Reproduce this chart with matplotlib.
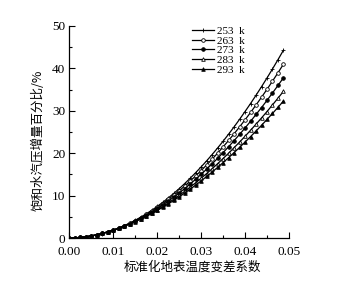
import matplotlib
matplotlib.use("Agg")
import matplotlib.pyplot as plt
from matplotlib.ticker import MultipleLocator, FormatStrFormatter

# normalised surface temperature variation coefficient
x = [i * 0.00125 for i in range(40)]

# saturation vapour pressure increase (%)
t253 = [0, 0.03, 0.12, 0.26, 0.47, 0.73, 1.05, 1.43, 1.86, 2.36, 2.91, 3.52, 4.19, 4.92,
        5.71, 6.55, 7.46, 8.42, 9.44, 10.51, 11.65, 12.84, 14.10, 15.41, 16.78, 18.20,
        19.69, 21.23, 22.83, 24.49, 26.21, 27.99, 29.83, 31.72, 33.67, 35.68, 37.75,
        39.87, 42.06, 44.30]
t263 = [0, 0.03, 0.13, 0.28, 0.49, 0.75, 1.07, 1.45, 1.87, 2.36, 2.89, 3.48, 4.12, 4.82,
        5.57, 6.37, 7.22, 8.13, 9.09, 10.09, 11.15, 12.27, 13.43, 14.65, 15.91, 17.23,
        18.60, 20.02, 21.49, 23.01, 24.58, 26.21, 27.88, 29.60, 31.38, 33.20, 35.07,
        37.00, 38.97, 41.00]
t273 = [0, 0.04, 0.13, 0.29, 0.50, 0.76, 1.08, 1.45, 1.86, 2.33, 2.85, 3.41, 4.03, 4.69,
        5.40, 6.15, 6.96, 7.80, 8.70, 9.64, 10.63, 11.66, 12.74, 13.86, 15.03, 16.24,
        17.49, 18.79, 20.14, 21.53, 22.96, 24.44, 25.96, 27.52, 29.13, 30.77, 32.46,
        34.20, 35.98, 37.80]
t283 = [0, 0.04, 0.14, 0.30, 0.52, 0.78, 1.09, 1.45, 1.85, 2.30, 2.80, 3.33, 3.92, 4.54,
        5.21, 5.91, 6.66, 7.45, 8.28, 9.15, 10.06, 11.01, 12.00, 13.03, 14.10, 15.20,
        16.34, 17.53, 18.75, 20.00, 21.30, 22.63, 23.99, 25.40, 26.84, 28.32, 29.83,
        31.39, 32.98, 34.60]
t293 = [0, 0.04, 0.15, 0.32, 0.54, 0.80, 1.11, 1.47, 1.87, 2.31, 2.79, 3.31, 3.87, 4.47,
        5.11, 5.78, 6.50, 7.25, 8.03, 8.85, 9.71, 10.60, 11.52, 12.48, 13.48, 14.51,
        15.57, 16.66, 17.79, 18.95, 20.14, 21.37, 22.62, 23.91, 25.23, 26.58, 27.96,
        29.38, 30.82, 32.30]

series = [t253, t263, t273, t283, t293]
labels = ["253  k", "263  k", "273  k", "283  k", "293  k"]
styles = [("+", "black"), ("o", "white"), ("o", "black"), ("^", "white"), ("^", "black")]

serif = "Liberation Serif"
cjk = ["Noto Sans CJK SC", "DejaVu Sans"]

fig = plt.figure(figsize=(3.44, 2.81), dpi=100)
ax = fig.add_axes([0.202, 0.153, 0.638, 0.7545])

for y, lab, (m, fc) in zip(series, labels, styles):
    ax.plot(x, y, "-", color="black", lw=0.9, marker=m, ms=2.6 if m != "+" else 3.5,
            mfc=fc, mec="black", mew=0.6, label=lab)

ax.set_xlim(0, 0.05)
ax.set_ylim(0, 50)
ax.xaxis.set_major_locator(MultipleLocator(0.01))
ax.xaxis.set_minor_locator(MultipleLocator(0.005))
ax.yaxis.set_major_locator(MultipleLocator(10))
ax.yaxis.set_minor_locator(MultipleLocator(5))
ax.xaxis.set_major_formatter(FormatStrFormatter("%.2f"))
ax.tick_params(which="both", direction="in", width=0.8)
ax.tick_params(which="major", length=4, labelsize=9.5)
ax.tick_params(which="minor", length=2)
ax.tick_params(axis="x", pad=5.5)
ax.tick_params(axis="y", pad=3)
for t in ax.get_xticklabels() + ax.get_yticklabels():
    t.set_family(serif)

ax.spines["top"].set_visible(False)
ax.spines["right"].set_visible(False)
ax.spines["left"].set_linewidth(0.9)
ax.spines["bottom"].set_linewidth(0.9)

ax.set_xlabel("标准化地表温度变差系数", family=cjk, fontsize=9, labelpad=1)
ax.xaxis.set_label_coords(0.56, -0.105)
ax.set_ylabel("饱和水汽压增量百分比/%", family=cjk, fontsize=9, labelpad=2)
ax.yaxis.set_label_coords(-0.115, 0.46)

leg = ax.legend(loc="upper left", bbox_to_anchor=(0.56, 1.0), frameon=False,
                prop={"family": serif, "size": 8}, handlelength=1.9,
                handletextpad=0.3, labelspacing=0.0, borderpad=0, borderaxespad=0)

fig.savefig("out.png", dpi=100)
